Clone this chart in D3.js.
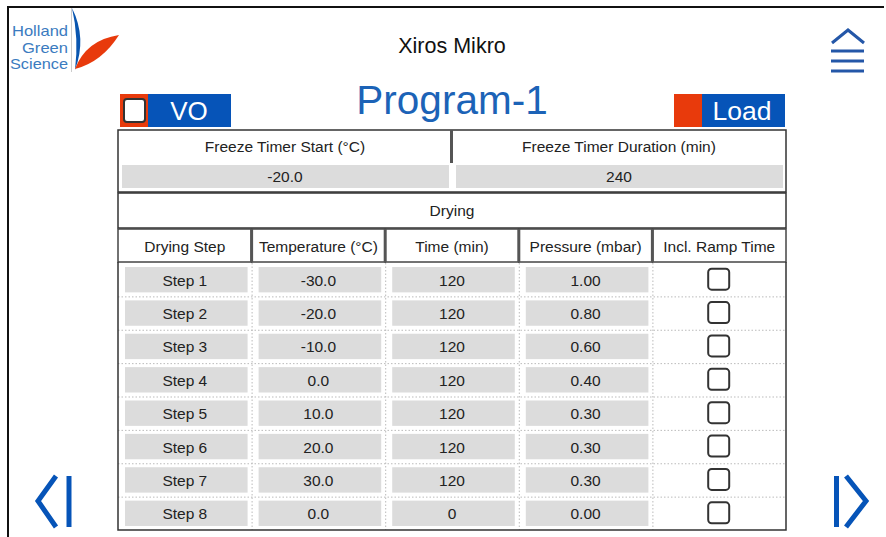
<!DOCTYPE html>
<html>
<head>
<meta charset="utf-8">
<script src="https://cdn.jsdelivr.net/npm/d3@7"></script>
<style>
  html, body { margin: 0; padding: 0; background: #fff; }
  svg { display: block; font-family: "Liberation Sans", Arial, sans-serif; }
</style>
</head>
<body>
<div id="root"></div>
<script>
const title = 'Xiros Mikro'
const programName = 'Program-1'
const logoWords = ['Holland', 'Green', 'Science']
const freezeHeaders = ['Freeze Timer Start (°C)', 'Freeze Timer Duration (min)']
const freezeValues = ['-20.0', '240']
const sectionTitle = 'Drying'
const columns = ['Drying Step', 'Temperature (°C)', 'Time (min)', 'Pressure (mbar)', 'Incl. Ramp Time']
const steps = ['Step 1', 'Step 2', 'Step 3', 'Step 4', 'Step 5', 'Step 6', 'Step 7', 'Step 8']
const temperatures = [-30, -20, -10, 0, 10, 20, 30, 0]
const times = [120, 120, 120, 120, 120, 120, 120, 0]
const pressures = [1.00, 0.80, 0.60, 0.40, 0.30, 0.30, 0.30, 0.00]
const inclRamp = [false, false, false, false, false, false, false, false]

const W = 886, H = 537
const BLUE = '#0654b8', RED = '#e83a0c', GRAY = '#dcdcdc', INK = '#222'

const svg = d3.select('#root').append('svg').attr('width', W).attr('height', H)

// outer frame (top + left only)
svg.append('path').attr('d', 'M8,537V7H884').attr('fill', 'none').attr('stroke', '#111').attr('stroke-width', 2)

// logo -- narrow font, stretched to the reference widths
const logoWidths = [56, 46, 58]
const logo = svg.append('g')
logo.selectAll('text').data(logoWords).join('text')
  .attr('x', (d, i) => 68 - logoWidths[i]).attr('y', (d, i) => 36 + i * 16.6)
  .attr('font-size', 14.5).attr('fill', '#3b7bc0')
  .attr('textLength', (d, i) => logoWidths[i]).attr('lengthAdjust', 'spacingAndGlyphs')
  .text(d => d)
logo.append('line').attr('x1', 71.5).attr('x2', 71.5).attr('y1', 8).attr('y2', 72).attr('stroke', '#ccc')
logo.append('path').attr('d', 'M72,8 Q87,38 75,70 Q79,38 72,8Z').attr('fill', '#0a56b0')
logo.append('path').attr('d', 'M75,69 Q86,40 119,35 Q102,62 75,69Z').attr('fill', RED)

// title
svg.append('text').attr('x', 452).attr('y', 53).attr('text-anchor', 'middle')
  .attr('font-size', 21.5).attr('fill', '#111').text(title)
svg.append('text').attr('x', 452).attr('y', 114).attr('text-anchor', 'middle')
  .attr('font-size', 40.5).attr('fill', '#1c63b7').text(programName)

// menu icon
const menu = svg.append('g').attr('stroke', '#2457a8').attr('fill', 'none')
menu.append('path').attr('d', 'M832,43L848,30L864,43').attr('stroke-width', 3)
menu.selectAll('line').data([51, 61, 71]).join('line')
  .attr('x1', 831).attr('x2', 864).attr('y1', d => d).attr('y2', d => d).attr('stroke-width', 3)

// VO + Load buttons
svg.append('rect').attr('x', 120).attr('y', 94).attr('width', 28).attr('height', 33).attr('fill', RED)
svg.append('rect').attr('x', 148).attr('y', 94).attr('width', 83).attr('height', 33).attr('fill', BLUE)
svg.append('rect').attr('x', 124).attr('y', 99).attr('width', 21).attr('height', 23).attr('rx', 3)
  .attr('fill', '#fff').attr('stroke', '#333').attr('stroke-width', 2)
svg.append('text').attr('x', 189).attr('y', 120).attr('text-anchor', 'middle')
  .attr('font-size', 26).attr('fill', '#fff').text('VO')
svg.append('rect').attr('x', 674).attr('y', 94).attr('width', 28).attr('height', 33).attr('fill', RED)
svg.append('rect').attr('x', 702).attr('y', 94).attr('width', 83).attr('height', 33).attr('fill', BLUE)
svg.append('text').attr('x', 742).attr('y', 120).attr('text-anchor', 'middle')
  .attr('font-size', 26.5).attr('fill', '#fff').text('Load')

// table
const left = 118, right = 786
const txt = (g, x, y, s) => g.append('text').attr('x', x).attr('y', y).attr('text-anchor', 'middle')
  .attr('font-size', 15.5).attr('fill', INK).text(s)

const fx = d3.scaleBand().domain(freezeHeaders).range([left, right])
const freezeG = svg.append('g')
freezeG.append('rect').attr('x', left).attr('y', 130).attr('width', right - left).attr('height', 62)
  .attr('fill', 'none').attr('stroke', '#333').attr('stroke-width', 1.5)
freezeG.append('rect').attr('x', fx(freezeHeaders[1]) - 2).attr('y', 130).attr('width', 3).attr('height', 33).attr('fill', '#555')
freezeHeaders.forEach((h, i) => {
  const x0 = fx(h), w = fx.bandwidth()
  txt(freezeG, x0 + w / 2, 152, h)
  freezeG.append('rect').attr('x', x0 + 4).attr('y', 165).attr('width', w - 7).attr('height', 23).attr('fill', GRAY)
  txt(freezeG, x0 + w / 2, 182, freezeValues[i])
})

svg.append('rect').attr('x', left).attr('y', 193).attr('width', right - left).attr('height', 35)
  .attr('fill', 'none').attr('stroke', '#333').attr('stroke-width', 1.5)
txt(svg, (left + right) / 2, 216, sectionTitle)

const x = d3.scaleBand().domain(columns).range([left, right])
const y = d3.scaleBand().domain(steps).range([263, 530])

const head = svg.append('g')
columns.forEach(c => {
  head.append('rect').attr('x', x(c)).attr('y', 229).attr('width', x.bandwidth()).attr('height', 33)
    .attr('fill', 'none').attr('stroke', '#444').attr('stroke-width', 1.5)
  txt(head, x(c) + x.bandwidth() / 2, 252, c)
})
columns.slice(1).forEach(c => {
  head.append('rect').attr('x', x(c) - 1.5).attr('y', 229).attr('width', 3).attr('height', 33).attr('fill', '#555')
})

// body grid (dotted)
const grid = svg.append('g').attr('stroke', '#bbb').attr('stroke-dasharray', '1.5,2')
steps.slice(1).forEach(s => {
  grid.append('line').attr('x1', left).attr('x2', right).attr('y1', y(s) + 0.5).attr('y2', y(s) + 0.5)
})
columns.slice(1).forEach(c => {
  grid.append('line').attr('x1', x(c) + 0.5).attr('x2', x(c) + 0.5).attr('y1', 263).attr('y2', 530)
})
svg.append('path').attr('d', `M${left},262V530H${right}V262`).attr('fill', 'none').attr('stroke', '#333').attr('stroke-width', 1.5)

const rows = steps.map((s, i) => [s, temperatures[i].toFixed(1), String(times[i]), pressures[i].toFixed(2)])
const body = svg.append('g')
rows.forEach((r, i) => {
  const y0 = y(steps[i]), h = y.bandwidth()
  r.forEach((v, j) => {
    const x0 = x(columns[j])
    body.append('rect').attr('x', x0 + 7).attr('y', y0 + 4).attr('width', x.bandwidth() - 11).attr('height', h - 8).attr('fill', GRAY)
    txt(body, x0 + x.bandwidth() / 2, y0 + h / 2 + 6, v)
  })
  const cx = x(columns[4]) + x.bandwidth() / 2
  body.append('rect').attr('x', cx - 11).attr('y', y0 + h / 2 - 11).attr('width', 21).attr('height', 21).attr('rx', 3.5)
    .attr('fill', inclRamp[i] ? '#333' : '#fff').attr('stroke', '#333').attr('stroke-width', 2)
})

// navigation arrows
const nav = svg.append('g').attr('stroke', BLUE).attr('fill', 'none').attr('stroke-width', 5)
nav.append('path').attr('d', 'M56,476L38,501L56,527')
nav.append('line').attr('x1', 69).attr('x2', 69).attr('y1', 476).attr('y2', 527)
nav.append('path').attr('d', 'M846,476L866,501L846,527')
nav.append('line').attr('x1', 836.5).attr('x2', 836.5).attr('y1', 476).attr('y2', 527)
</script>
</body>
</html>
